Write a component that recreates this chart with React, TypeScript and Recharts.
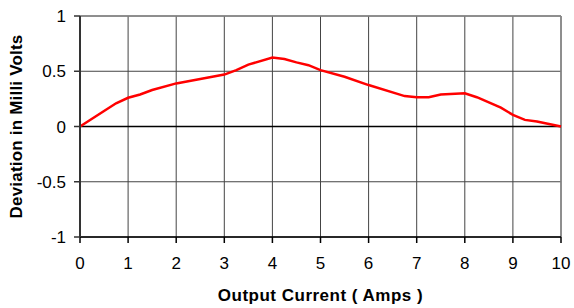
import { LineChart, Line, XAxis, YAxis, CartesianGrid, ReferenceLine } from "recharts";

// output current (A) vs deviation (mV)
const amps = [0, 0.5, 0.75, 1, 1.25, 1.5, 2, 2.5, 3, 3.25, 3.5, 4, 4.25, 4.5, 4.75, 5, 5.5, 6, 6.75, 7, 7.25, 7.5, 8, 8.25, 8.75, 9, 9.25, 9.5, 10];
const deviation = [0, 0.14, 0.21, 0.26, 0.29, 0.33, 0.39, 0.43, 0.47, 0.51, 0.56, 0.625, 0.61, 0.58, 0.555, 0.51, 0.45, 0.375, 0.275, 0.265, 0.265, 0.29, 0.3, 0.265, 0.17, 0.105, 0.06, 0.045, 0];

const xTicks = [0, 1, 2, 3, 4, 5, 6, 7, 8, 9, 10];
const yTicks = [-1, -0.5, 0, 0.5, 1];

const data = amps.map((a, i) => ({ amps: a, dev: deviation[i] }));

const font = "'Liberation Sans', Arial, sans-serif";

export default function App() {
  return (
    <div style={{ position: "absolute", left: 0, top: 0, background: "#fff" }}>
      <LineChart width={574} height={308} data={data} margin={{ top: 16, right: 13, left: 0, bottom: 0 }}>
        <CartesianGrid stroke="#444" strokeWidth={1} />
        <XAxis
          dataKey="amps"
          type="number"
          domain={[0, 10]}
          ticks={xTicks}
          interval={0}
          height={71}
          tickSize={6}
          tickMargin={14}
          axisLine={{ stroke: "#000", strokeWidth: 1.5 }}
          tickLine={{ stroke: "#000", strokeWidth: 1.5 }}
          tick={{ fontSize: 17, fill: "#000", fontFamily: font }}
          label={{ value: "Output Current ( Amps )", position: "insideBottom", offset: 7, fontSize: 17, fontWeight: "bold", fill: "#000", fontFamily: font, letterSpacing: 0.5 }}
        />
        <YAxis
          type="number"
          domain={[-1, 1]}
          ticks={yTicks}
          interval={0}
          width={80}
          tickSize={6}
          tickMargin={8}
          axisLine={{ stroke: "#333", strokeWidth: 2 }}
          tickLine={{ stroke: "#333", strokeWidth: 1.5 }}
          tick={{ fontSize: 17, fill: "#000", fontFamily: font }}
          label={{ value: "Deviation in Milli Volts", angle: -90, position: "center", dx: -24.5, fontSize: 17, fontWeight: "bold", fill: "#000", fontFamily: font, letterSpacing: 0.2 }}
        />
        <ReferenceLine y={1} stroke="#888" strokeWidth={1.5} />
        <ReferenceLine x={10} stroke="#888" strokeWidth={1.5} />
        <ReferenceLine y={0} stroke="#000" strokeWidth={1.5} />
        <Line
          type="linear"
          dataKey="dev"
          stroke="#ff0000"
          strokeWidth={2.5}
          dot={false}
          isAnimationActive={false}
        />
      </LineChart>
    </div>
  );
}
